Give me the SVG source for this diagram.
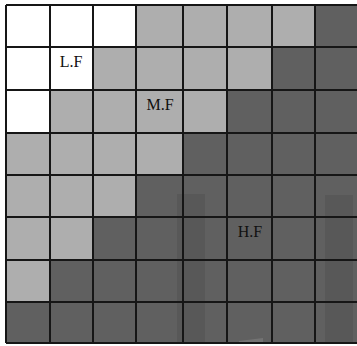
<svg xmlns="http://www.w3.org/2000/svg" width="357" height="346" viewBox="0 0 357 346">
<style>
.w{fill:#ffffff}
.l{fill:#aeaeae}
.d{fill:#606060}
.grid{stroke:#161616;stroke-width:2;fill:none}
.ov{fill:#000;fill-opacity:0.08}
.lab{font-family:"Liberation Serif","Times New Roman",serif;font-size:16px;fill:#111;text-anchor:middle}
</style>
<rect width="357" height="346" fill="#ffffff"/>
<g id="cells">
<!-- row 0 -->
<rect class="w" x="6" y="5" width="44" height="42"/><rect class="w" x="50" y="5" width="43" height="42"/><rect class="w" x="93" y="5" width="43" height="42"/><rect class="l" x="136" y="5" width="47" height="42"/><rect class="l" x="183" y="5" width="44" height="42"/><rect class="l" x="227" y="5" width="45" height="42"/><rect class="l" x="272" y="5" width="43" height="42"/><rect class="d" x="315" y="5" width="43" height="42"/>
<!-- row 1 -->
<rect class="w" x="6" y="47" width="44" height="43"/><rect class="w" x="50" y="47" width="43" height="43"/><rect class="l" x="93" y="47" width="43" height="43"/><rect class="l" x="136" y="47" width="47" height="43"/><rect class="l" x="183" y="47" width="44" height="43"/><rect class="l" x="227" y="47" width="45" height="43"/><rect class="d" x="272" y="47" width="43" height="43"/><rect class="d" x="315" y="47" width="43" height="43"/>
<!-- row 2 -->
<rect class="w" x="6" y="90" width="44" height="43"/><rect class="l" x="50" y="90" width="43" height="43"/><rect class="l" x="93" y="90" width="43" height="43"/><rect class="l" x="136" y="90" width="47" height="43"/><rect class="l" x="183" y="90" width="44" height="43"/><rect class="d" x="227" y="90" width="45" height="43"/><rect class="d" x="272" y="90" width="43" height="43"/><rect class="d" x="315" y="90" width="43" height="43"/>
<!-- row 3 -->
<rect class="l" x="6" y="133" width="44" height="42"/><rect class="l" x="50" y="133" width="43" height="42"/><rect class="l" x="93" y="133" width="43" height="42"/><rect class="l" x="136" y="133" width="47" height="42"/><rect class="d" x="183" y="133" width="44" height="42"/><rect class="d" x="227" y="133" width="45" height="42"/><rect class="d" x="272" y="133" width="43" height="42"/><rect class="d" x="315" y="133" width="43" height="42"/>
<!-- row 4 -->
<rect class="l" x="6" y="175" width="44" height="42"/><rect class="l" x="50" y="175" width="43" height="42"/><rect class="l" x="93" y="175" width="43" height="42"/><rect class="d" x="136" y="175" width="47" height="42"/><rect class="d" x="183" y="175" width="44" height="42"/><rect class="d" x="227" y="175" width="45" height="42"/><rect class="d" x="272" y="175" width="43" height="42"/><rect class="d" x="315" y="175" width="43" height="42"/>
<!-- row 5 -->
<rect class="l" x="6" y="217" width="44" height="43"/><rect class="l" x="50" y="217" width="43" height="43"/><rect class="d" x="93" y="217" width="43" height="43"/><rect class="d" x="136" y="217" width="47" height="43"/><rect class="d" x="183" y="217" width="44" height="43"/><rect class="d" x="227" y="217" width="45" height="43"/><rect class="d" x="272" y="217" width="43" height="43"/><rect class="d" x="315" y="217" width="43" height="43"/>
<!-- row 6 -->
<rect class="l" x="6" y="260" width="44" height="42"/><rect class="d" x="50" y="260" width="43" height="42"/><rect class="d" x="93" y="260" width="43" height="42"/><rect class="d" x="136" y="260" width="47" height="42"/><rect class="d" x="183" y="260" width="44" height="42"/><rect class="d" x="227" y="260" width="45" height="42"/><rect class="d" x="272" y="260" width="43" height="42"/><rect class="d" x="315" y="260" width="43" height="42"/>
<!-- row 7 -->
<rect class="d" x="6" y="302" width="44" height="41"/><rect class="d" x="50" y="302" width="43" height="41"/><rect class="d" x="93" y="302" width="43" height="41"/><rect class="d" x="136" y="302" width="47" height="41"/><rect class="d" x="183" y="302" width="44" height="41"/><rect class="d" x="227" y="302" width="45" height="41"/><rect class="d" x="272" y="302" width="43" height="41"/><rect class="d" x="315" y="302" width="43" height="41"/>
</g>
<g id="overlays">
<rect class="ov" x="177" y="194" width="28" height="149"/>
<rect class="ov" x="325" y="195" width="28" height="148"/>
<polygon points="239,346 239,341 263,338 263,346" fill="#ffffff" fill-opacity="0.12"/>
</g>
<g id="gridlines" class="grid">
<path d="M6,5V343M50,5V343M93,5V343M136,5V343M183,5V343M227,5V343M272,5V343M315,5V343"/>
<path d="M6,5H357M6,47H357M6,90H357M6,133H357M6,175H357M6,217H357M6,260H357M6,302H357M6,343H357"/>
</g>
<g id="labels">
<text class="lab" x="71" y="67">L.F</text>
<text class="lab" x="160" y="110">M.F</text>
<text class="lab" x="250" y="237">H.F</text>
</g>
</svg>
